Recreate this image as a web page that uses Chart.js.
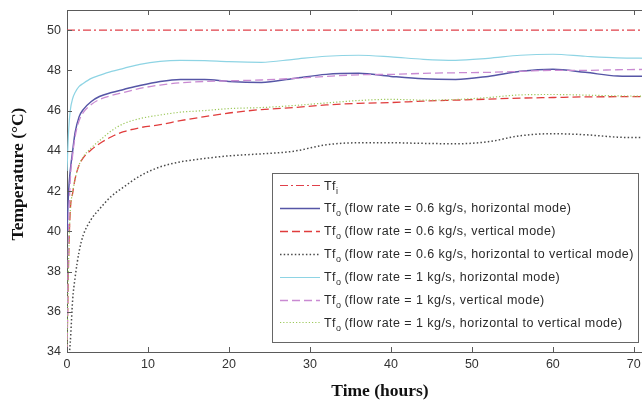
<!DOCTYPE html>
<html>
<head>
<meta charset="utf-8">
<script src="https://cdn.jsdelivr.net/npm/chart.js@4/dist/chart.umd.min.js"></script>
<style>
  html, body { margin: 0; padding: 0; background: #fff; overflow: hidden; }
  #wrap { width: 660px; height: 402px; }
</style>
</head>
<body>
<div id="wrap"><canvas id="c" width="660" height="402"></canvas></div>
<script>
// Time axis (hours) shared by every series
const hours = [0, 0.2, 0.4, 0.7, 1, 1.5, 2, 3, 4, 5.5, 7, 9, 11.5, 14, 17, 20, 24, 28, 32, 36, 40, 44, 48, 52, 56, 60, 64, 68, 72];

// Inlet fluid temperature (°C)
const tfInlet = hours.map(() => 50);

// Outlet fluid temperatures (°C)
const tfo06Horizontal = [40.0, 42.0, 43.0, 44.0, 44.9, 45.7, 46.05, 46.45, 46.7, 46.9, 47.05, 47.25, 47.45, 47.55, 47.55, 47.45, 47.4, 47.6, 47.8, 47.85, 47.7, 47.58, 47.55, 47.7, 47.95, 48.05, 47.9, 47.72, 47.7];
const tfo06Vertical = [34.0, 38.6, 41.0, 41.9, 42.6, 43.3, 43.65, 44.05, 44.35, 44.7, 44.95, 45.15, 45.3, 45.5, 45.7, 45.88, 46.05, 46.15, 46.28, 46.36, 46.4, 46.47, 46.52, 46.57, 46.62, 46.65, 46.68, 46.69, 46.7];
const tfo06HorizToVert = [33.0, 33.6, 34.45, 36.6, 37.7, 39.0, 39.8, 40.6, 41.1, 41.75, 42.2, 42.75, 43.2, 43.45, 43.62, 43.75, 43.85, 43.98, 44.3, 44.4, 44.4, 44.37, 44.35, 44.45, 44.75, 44.85, 44.8, 44.68, 44.65];
const tfo1Horizontal = [43.0, 45.0, 46.0, 46.6, 46.9, 47.2, 47.35, 47.6, 47.75, 47.95, 48.1, 48.3, 48.45, 48.5, 48.48, 48.43, 48.4, 48.55, 48.7, 48.75, 48.67, 48.55, 48.5, 48.6, 48.75, 48.8, 48.7, 48.62, 48.6];
const tfo1Vertical = [34.0, 40.0, 42.5, 43.8, 44.7, 45.5, 45.9, 46.3, 46.55, 46.75, 46.9, 47.1, 47.27, 47.38, 47.45, 47.48, 47.52, 47.6, 47.7, 47.78, 47.8, 47.85, 47.88, 47.9, 47.95, 48.0, 48.0, 48.03, 48.05];
const tfo1HorizToVert = [34.0, 38.6, 41.0, 41.9, 42.6, 43.3, 43.7, 44.15, 44.5, 45.0, 45.35, 45.6, 45.78, 45.92, 46.0, 46.1, 46.15, 46.25, 46.38, 46.5, 46.56, 46.52, 46.55, 46.65, 46.78, 46.8, 46.77, 46.73, 46.72];

// Tick values
const xTicks = [0, 10, 20, 30, 40, 50, 60, 70];
const yTicks = [34, 36, 38, 40, 42, 44, 46, 48, 50];

// Legend texts: main symbol, subscript, description
const legendTexts = [
  ['Tf', 'i', ''],
  ['Tf', 'o', '(flow rate = 0.6 kg/s, horizontal mode)'],
  ['Tf', 'o', '(flow rate = 0.6 kg/s, vertical mode)'],
  ['Tf', 'o', '(flow rate = 0.6 kg/s, horizontal to vertical mode)'],
  ['Tf', 'o', '(flow rate = 1 kg/s, horizontal mode)'],
  ['Tf', 'o', '(flow rate = 1 kg/s, vertical mode)'],
  ['Tf', 'o', '(flow rate = 1 kg/s, horizontal to vertical mode)']
];

const seriesValues = [tfInlet, tfo06Horizontal, tfo06Vertical, tfo06HorizToVert, tfo1Horizontal, tfo1Vertical, tfo1HorizToVert];
const styles = [
  { color: '#e0404a', dash: [8, 3, 2, 3], width: 1.1 },
  { color: '#5656a6', dash: [], width: 1.5 },
  { color: '#e03c3c', dash: [8, 4], width: 1.3 },
  { color: '#4a4a4a', dash: [1.5, 2.2], width: 1.5 },
  { color: '#8ed4e4', dash: [], width: 1.2 },
  { color: '#c98ad2', dash: [8, 4], width: 1.3 },
  { color: '#9cc85a', dash: [1.2, 2], width: 1.2 }
];

const datasets = seriesValues.map((vals, i) => ({
  label: legendTexts[i].join(' '),
  data: hours.map((h, k) => ({ x: h, y: vals[k] })),
  borderColor: styles[i].color,
  borderDash: styles[i].dash,
  borderWidth: styles[i].width,
  pointRadius: 0,
  fill: false,
  tension: 0.4,
  cubicInterpolationMode: 'monotone',
  order: seriesValues.length - i
}));

const AXIS = '#5a5a5a';
const SANS = '"Liberation Sans", Arial, sans-serif';

// Frame top line, inward tick marks, axis titles and the boxed legend
const decorations = {
  id: 'decorations',
  afterDatasetsDraw(chart) {
    const { ctx, chartArea: a, scales } = chart;
    ctx.save();
    ctx.strokeStyle = AXIS;
    ctx.lineWidth = 1;
    ctx.setLineDash([]);
    ctx.beginPath();
    ctx.moveTo(a.left, a.top + 0.5);
    ctx.lineTo(a.right, a.top + 0.5);
    xTicks.forEach(v => {
      const px = Math.round(scales.x.getPixelForValue(v)) + 0.5;
      ctx.moveTo(px, a.bottom); ctx.lineTo(px, a.bottom - 5);
      ctx.moveTo(px, a.top); ctx.lineTo(px, a.top + 5);
    });
    yTicks.forEach(v => {
      const py = Math.round(scales.y.getPixelForValue(v)) + 0.5;
      ctx.moveTo(a.left, py); ctx.lineTo(a.left + 5, py);
    });
    ctx.stroke();

    // Legend box
    const bx = 272.5, by = 173.5, bw = 366, bh = 169;
    ctx.fillStyle = '#fff';
    ctx.fillRect(bx, by, bw, bh);
    ctx.strokeStyle = '#666';
    ctx.strokeRect(bx, by, bw, bh);
    legendTexts.forEach((t, i) => {
      const y = 185 + i * 22.9;
      const st = styles[i];
      ctx.strokeStyle = st.color;
      ctx.lineWidth = st.width;
      ctx.setLineDash(st.dash);
      ctx.beginPath();
      ctx.moveTo(280, Math.round(y) + 0.5);
      ctx.lineTo(320, Math.round(y) + 0.5);
      ctx.stroke();
      ctx.setLineDash([]);
      ctx.fillStyle = '#2a2a2a';
      ctx.textBaseline = 'alphabetic';
      ctx.textAlign = 'left';
      ctx.letterSpacing = '0.45px';
      ctx.font = '12.5px ' + SANS;
      let x = 324;
      ctx.fillText(t[0], x, y + 4.5);
      x += ctx.measureText(t[0]).width;
      ctx.font = '9px ' + SANS;
      ctx.fillText(t[1], x, y + 8.5);
      x += ctx.measureText(t[1]).width + 3;
      ctx.font = '12.5px ' + SANS;
      if (t[2]) ctx.fillText(t[2], x, y + 4.5);
    });
    ctx.letterSpacing = '0px';

    // Axis titles
    ctx.fillStyle = '#111';
    ctx.font = 'bold 17.5px "Liberation Serif", "Times New Roman", serif';
    ctx.textAlign = 'center';
    ctx.textBaseline = 'middle';
    ctx.fillText('Time (hours)', 380, 391);
    ctx.translate(18, 174);
    ctx.rotate(-Math.PI / 2);
    ctx.fillText('Temperature (°C)', 0, 0);
    ctx.restore();
  }
};

new Chart(document.getElementById('c'), {
  type: 'line',
  data: { datasets },
  options: {
    responsive: false,
    animation: false,
    devicePixelRatio: 1,
    layout: { padding: { top: 10, right: 10, left: 0, bottom: 0 } },
    plugins: { legend: { display: false }, tooltip: { enabled: false } },
    scales: {
      x: {
        type: 'linear',
        min: 0,
        max: 72,
        afterFit: s => { s.height = 50; s.paddingLeft = 0; s.paddingRight = 0; },
        afterBuildTicks: s => { s.ticks = xTicks.map(v => ({ value: v })); },
        grid: { display: false, drawTicks: false },
        border: { display: true, color: AXIS, width: 1 },
        ticks: { padding: 5, color: '#333', font: { family: SANS, size: 12.5 }, maxRotation: 0 }
      },
      y: {
        min: 34,
        max: 51,
        afterFit: s => { s.width = 67; s.paddingTop = 0; s.paddingBottom = 0; },
        afterBuildTicks: s => { s.ticks = yTicks.map(v => ({ value: v })); },
        grid: { display: false, drawTicks: false },
        border: { display: true, color: AXIS, width: 1 },
        ticks: { padding: 6, color: '#333', font: { family: SANS, size: 12.5 } }
      }
    }
  },
  plugins: [decorations]
});
</script>
</body>
</html>
